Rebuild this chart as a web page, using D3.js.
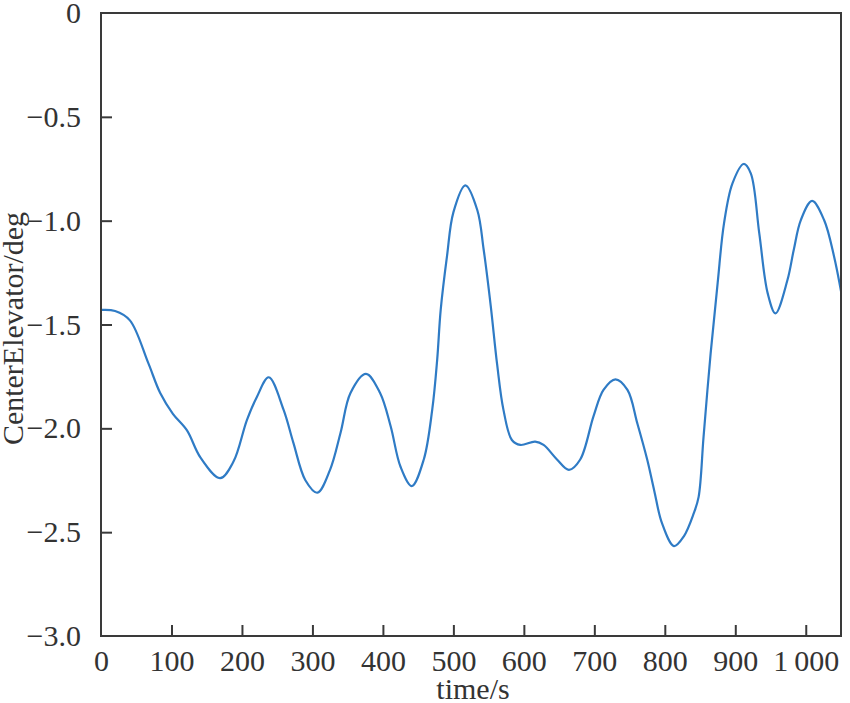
<!DOCTYPE html>
<html><head><meta charset="utf-8">
<script src="https://cdn.jsdelivr.net/npm/d3@7"></script>
<style>body{margin:0;background:#fff}svg{display:block}text{font-family:"Liberation Serif","Times New Roman",serif;fill:#333}</style>
</head><body>
<svg id="c" width="850" height="703"></svg>
<script>
const timeValues = [0,20,41,67,84,102,122,141,169,188,207,221,238,259,273,290,307,325,340,354,376,396,411,425,441,458,470,477,482,491,500,517,534,543,553,562,571,583,595,616,628,647,664,680,699,713,730,747,761,775,785,796,813,827,841,848,855,865,875,884,896,912,922,934,946,957,974,983,993,1009,1026,1040,1051];
const elevValues = [-1.43,-1.435,-1.48,-1.685,-1.83,-1.93,-2.01,-2.14,-2.24,-2.16,-1.96,-1.85,-1.754,-1.91,-2.07,-2.25,-2.31,-2.20,-2.02,-1.83,-1.738,-1.83,-1.99,-2.185,-2.278,-2.15,-1.91,-1.67,-1.43,-1.17,-0.96,-0.83,-0.95,-1.14,-1.41,-1.69,-1.91,-2.056,-2.08,-2.064,-2.08,-2.15,-2.20,-2.15,-1.94,-1.815,-1.764,-1.815,-1.976,-2.15,-2.30,-2.457,-2.567,-2.52,-2.41,-2.33,-2.04,-1.64,-1.30,-1.013,-0.82,-0.727,-0.772,-1.06,-1.35,-1.446,-1.286,-1.14,-0.997,-0.905,-0.997,-1.17,-1.358];
const xTicks = [0,100,200,300,400,500,600,700,800,900,1000];
const xTickLabels = ["0","100","200","300","400","500","600","700","800","900","1\u2009000"];
const yTicks = [0,-0.5,-1.0,-1.5,-2.0,-2.5,-3.0];
const yTickLabels = ["0","\u22120.5","\u22121.0","\u22121.5","\u22122.0","\u22122.5","\u22123.0"];
const xLabel = "time/s", yLabel = "CenterElevator/deg";

const L=101, R=841, T=13, B=636;
const svg = d3.select("#c");
const x = d3.scaleLinear().domain([0,1050]).range([L,R]);
const y = d3.scaleLinear().domain([-3,0]).range([B,T]);
const axisColor="#3a3a3a", fs=30;

svg.append("defs").append("clipPath").attr("id","clip").append("rect")
  .attr("x",L).attr("y",T).attr("width",R-L).attr("height",B-T);

const data = timeValues.map((t,i)=>({t, v:elevValues[i]}));
svg.append("path").datum(data).attr("clip-path","url(#clip)")
  .attr("fill","none").attr("stroke","#2f7bc5").attr("stroke-width",2.2)
  .attr("d", d3.line().x(d=>x(d.t)).y(d=>y(d.v)).curve(d3.curveCatmullRom.alpha(0.5)));

// frame
svg.append("rect").attr("x",L).attr("y",T).attr("width",R-L).attr("height",B-T)
  .attr("fill","none").attr("stroke",axisColor).attr("stroke-width",2);

// x axis
const xa = svg.append("g").attr("transform",`translate(0,${B})`)
  .call(d3.axisBottom(x).tickValues(xTicks).tickSize(-11).tickPadding(14)
    .tickFormat((d,i)=>xTickLabels[i]));
xa.select(".domain").remove();
xa.selectAll("line").attr("stroke",axisColor).attr("stroke-width",2);
xa.selectAll("text").attr("font-size",fs).attr("fill","#333").attr("font-family",null);
xa.selectAll(".tick").filter(d=>d===0).select("line").remove();

// y axis
const ya = svg.append("g").attr("transform",`translate(${L},0)`)
  .call(d3.axisLeft(y).tickValues(yTicks).tickSize(-11).tickPadding(20)
    .tickFormat((d,i)=>yTickLabels[i]));
ya.select(".domain").remove();
ya.selectAll("line").attr("stroke",axisColor).attr("stroke-width",2);
ya.selectAll("text").attr("font-size",fs).attr("fill","#333").attr("font-family",null);
ya.selectAll(".tick").filter(d=>d===0||d===-3).select("line").remove();

svg.append("text").attr("x",(L+R)/2 + 2).attr("y",699).attr("text-anchor","middle")
  .attr("font-size",fs).text(xLabel);
svg.append("text").attr("transform",`translate(23,${(T+B)/2 + 4}) rotate(-90)`)
  .attr("text-anchor","middle").attr("font-size",fs).text(yLabel);
</script>
</body></html>
